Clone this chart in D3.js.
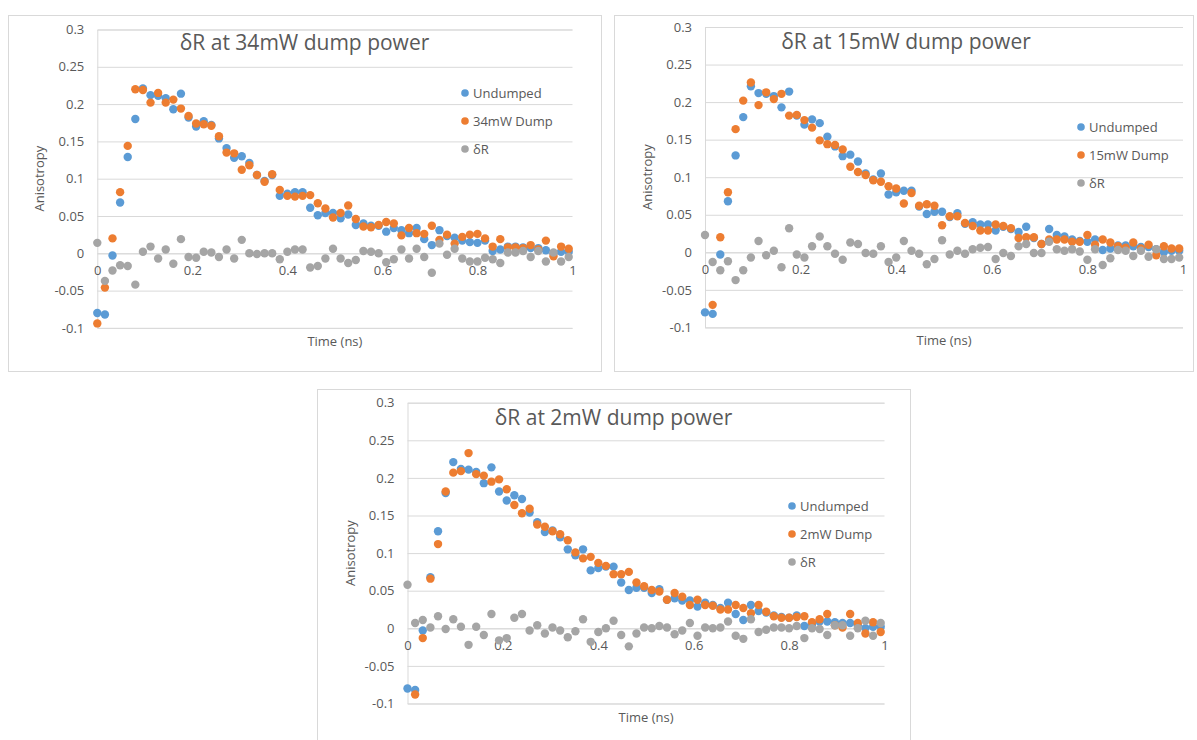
<!DOCTYPE html>
<html>
<head>
<meta charset="utf-8">
<script src="https://cdn.jsdelivr.net/npm/d3@7"></script>
<style>
  html, body { margin: 0; padding: 0; background: #ffffff; }
  svg { display: block; font-family: "Open Sans", "Noto Sans", sans-serif; }
</style>
</head>
<body>
<svg id="chart" width="1197" height="740"></svg>
<script>
// Sample times (ns)
const times = [0, 0.016, 0.032, 0.048, 0.064, 0.08, 0.096, 0.112, 0.128, 0.144,
  0.16, 0.176, 0.192, 0.208, 0.224, 0.24, 0.256, 0.272, 0.288, 0.304,
  0.32, 0.336, 0.352, 0.368, 0.384, 0.4, 0.416, 0.432, 0.448, 0.464,
  0.48, 0.496, 0.512, 0.528, 0.544, 0.56, 0.576, 0.592, 0.608, 0.624,
  0.64, 0.656, 0.672, 0.688, 0.704, 0.72, 0.736, 0.752, 0.768, 0.784,
  0.8, 0.816, 0.832, 0.848, 0.864, 0.88, 0.896, 0.912, 0.928, 0.944,
  0.96, 0.976, 0.992];

// Anisotropy without dump pulse (shared by all three panels)
const undumped = [-0.080, -0.082, -0.003, 0.068, 0.129, 0.180, 0.221, 0.212, 0.211, 0.208,
  0.193, 0.214, 0.182, 0.170, 0.177, 0.172, 0.154, 0.141, 0.128, 0.130,
  0.121, 0.105, 0.097, 0.105, 0.077, 0.080, 0.082, 0.082, 0.061, 0.051,
  0.054, 0.054, 0.047, 0.052, 0.038, 0.040, 0.037, 0.037, 0.029, 0.034,
  0.031, 0.027, 0.034, 0.019, 0.011, 0.031, 0.023, 0.021, 0.017, 0.015,
  0.014, 0.017, 0.003, 0.005, 0.009, 0.009, 0.008, 0.007, 0.007, 0.004,
  0.000, 0.002, 0.002];

// 34 mW dump
const dump34 = [-0.094, -0.046, 0.020, 0.082, 0.144, 0.220, 0.219, 0.202, 0.215, 0.202,
  0.206, 0.194, 0.184, 0.174, 0.173, 0.171, 0.157, 0.135, 0.134, 0.112,
  0.118, 0.105, 0.096, 0.106, 0.085, 0.077, 0.076, 0.077, 0.078, 0.067,
  0.060, 0.048, 0.054, 0.064, 0.046, 0.036, 0.035, 0.038, 0.042, 0.040,
  0.024, 0.034, 0.027, 0.026, 0.037, 0.018, 0.025, 0.013, 0.022, 0.025,
  0.026, 0.020, 0.009, 0.019, 0.008, 0.008, 0.007, 0.011, 0.005, 0.017,
  -0.004, 0.009, 0.006];
const deltaR34 = [0.014, -0.037, -0.023, -0.016, -0.017, -0.042, 0.002, 0.009, -0.007, 0.005,
  -0.014, 0.019, -0.005, -0.006, 0.002, 0.001, -0.005, 0.005, -0.007, 0.018,
  0.000, -0.001, 0.000, 0.000, -0.008, 0.002, 0.005, 0.005, -0.019, -0.017,
  -0.007, 0.006, -0.007, -0.013, -0.009, 0.003, 0.002, 0.000, -0.012, -0.008,
  0.005, -0.007, 0.006, -0.005, -0.026, 0.013, -0.002, 0.006, -0.007, -0.011,
  -0.011, -0.006, -0.008, -0.013, 0.001, 0.001, 0.003, -0.005, 0.003, -0.011,
  0.001, -0.011, -0.005];

// 15 mW dump
const dump15 = [-0.103, -0.070, 0.020, 0.080, 0.164, 0.202, 0.226, 0.196, 0.213, 0.204,
  0.211, 0.182, 0.183, 0.176, 0.166, 0.149, 0.144, 0.143, 0.137, 0.114,
  0.107, 0.103, 0.096, 0.094, 0.088, 0.085, 0.065, 0.079, 0.062, 0.064,
  0.062, 0.036, 0.048, 0.048, 0.039, 0.035, 0.029, 0.029, 0.037, 0.035,
  0.032, 0.019, 0.020, 0.020, 0.011, 0.017, 0.017, 0.017, 0.014, 0.014,
  0.023, 0.010, 0.017, 0.013, 0.008, 0.006, 0.013, 0.005, 0.010, -0.004,
  0.008, 0.005, 0.005];
const deltaR15 = [0.023, -0.013, -0.024, -0.012, -0.037, -0.024, -0.007, 0.015, -0.004, 0.002,
  -0.020, 0.032, -0.003, -0.007, 0.008, 0.021, 0.008, -0.002, -0.010, 0.013,
  0.011, -0.001, -0.002, 0.008, -0.013, -0.007, 0.015, 0.002, -0.002, -0.016,
  -0.009, 0.016, -0.003, 0.002, -0.002, 0.004, 0.006, 0.007, -0.009, -0.001,
  -0.005, 0.008, 0.011, -0.001, -0.001, 0.014, 0.004, 0.002, 0.004, 0.001,
  -0.010, 0.004, -0.017, -0.008, 0.003, 0.002, -0.005, 0.002, -0.006, 0.004,
  -0.009, -0.009, -0.007];

// 2 mW dump
const dump2 = [-0.138, -0.088, -0.013, 0.066, 0.112, 0.182, 0.207, 0.209, 0.233, 0.205,
  0.203, 0.195, 0.198, 0.185, 0.164, 0.153, 0.159, 0.138, 0.135, 0.129,
  0.125, 0.117, 0.101, 0.093, 0.095, 0.087, 0.083, 0.072, 0.072, 0.075,
  0.061, 0.056, 0.051, 0.049, 0.038, 0.047, 0.042, 0.031, 0.038, 0.031,
  0.030, 0.025, 0.025, 0.031, 0.027, 0.020, 0.031, 0.022, 0.016, 0.014,
  0.014, 0.015, 0.016, 0.008, 0.012, 0.019, 0.004, 0.001, 0.019, 0.007,
  -0.007, 0.008, -0.005];
const deltaR2 = [0.058, 0.007, 0.011, 0.001, 0.016, -0.001, 0.012, 0.002, -0.022, 0.002,
  -0.009, 0.019, -0.016, -0.013, 0.014, 0.019, -0.003, 0.004, -0.007, 0.001,
  -0.003, -0.012, -0.004, 0.012, -0.018, -0.005, 0.000, 0.010, -0.009, -0.024,
  -0.007, 0.001, 0.000, 0.003, 0.001, -0.008, -0.003, 0.007, -0.010, 0.001,
  0.000, 0.001, 0.009, -0.010, -0.014, 0.012, -0.005, -0.002, 0.001, 0.001,
  0.000, 0.003, -0.013, 0.000, -0.001, -0.009, 0.004, 0.004, -0.010, 0.000,
  0.010, -0.010, 0.007];

const yTicks = [-0.1, -0.05, 0, 0.05, 0.1, 0.15, 0.2, 0.25, 0.3];
const xTicks = [0, 0.2, 0.4, 0.6, 0.8, 1];
const panelTitles = ["δR at 34mW dump power", "δR at 15mW dump power", "δR at 2mW dump power"];
const dumpNames = ["34mW Dump", "15mW Dump", "2mW Dump"];
const undumpedName = "Undumped";
const deltaName = "δR";
const yAxisTitle = "Anisotropy";
const xAxisTitle = "Time (ns)";

const colors = { undumped: "#5B9BD5", dump: "#ED7D31", delta: "#A5A5A5" };
const textColor = "#595959";
const gridColor = "#D9D9D9";

// Layout of each chart box
const panels = [
  { frame: [8, 15, 593, 356], plot: [97.3, 572.5, 29.5, 327.9], legend: [465, 93], title: 304.5, titleY: 49.5,
    dump: dump34, delta: deltaR34 },
  { frame: [614, 15, 579, 356], plot: [705, 1183, 27, 327.4], legend: [1081, 127], title: 906, titleY: 48.5,
    dump: dump15, delta: deltaR15 },
  { frame: [317, 389, 593, 380], plot: [407.5, 884.5, 402.7, 703.5], legend: [792, 506], title: 613.5, titleY: 425,
    dump: dump2, delta: deltaR2 }
];

const svg = d3.select("#chart");

panels.forEach((p, k) => {
  const [fx, fy, fw, fh] = p.frame;
  const [left, right, top, bottom] = p.plot;
  const g = svg.append("g");

  g.append("rect")
    .attr("x", fx + 0.5).attr("y", fy + 0.5)
    .attr("width", fw).attr("height", fh)
    .attr("fill", "#ffffff").attr("stroke", gridColor).attr("stroke-width", 1);

  const x = d3.scaleLinear().domain([0, 1]).range([left, right]);
  const y = d3.scaleLinear().domain([-0.1, 0.3]).range([bottom, top]);

  // horizontal gridlines + value labels
  const yAxis = g.append("g")
    .attr("transform", `translate(${left},0)`)
    .call(d3.axisLeft(y).tickValues(yTicks).tickSize(-(right - left)).tickPadding(13)
      .tickFormat(d => String(d)));
  yAxis.selectAll(".tick line").attr("stroke", gridColor);
  yAxis.select(".domain").attr("stroke", gridColor);
  yAxis.selectAll(".tick text")
    .attr("fill", textColor).style("font-size", "13px")
    .style("font-family", "'Open Sans', sans-serif");

  // horizontal axis crosses at zero
  const xAxis = g.append("g")
    .attr("transform", `translate(0,${y(0)})`)
    .call(d3.axisBottom(x).tickValues(xTicks).tickSize(0).tickPadding(12)
      .tickFormat(d => String(d)));
  xAxis.select(".domain").attr("stroke", gridColor);
  xAxis.selectAll(".tick text")
    .attr("fill", textColor).style("font-size", "13px")
    .style("font-family", "'Open Sans', sans-serif");

  // title
  g.append("text")
    .attr("x", p.title).attr("y", p.titleY)
    .attr("text-anchor", "middle")
    .attr("fill", textColor)
    .style("font-size", "21px")
    .text(panelTitles[k]);

  // axis titles
  g.append("text")
    .attr("transform", `translate(${left - 53},${(top + bottom) / 2}) rotate(-90)`)
    .attr("text-anchor", "middle")
    .attr("fill", textColor)
    .style("font-size", "13px")
    .text(yAxisTitle);
  g.append("text")
    .attr("x", (left + right) / 2).attr("y", bottom + 18)
    .attr("text-anchor", "middle")
    .attr("fill", textColor)
    .style("font-size", "13px")
    .text(xAxisTitle);

  // series, drawn in order so later ones sit on top
  const series = [
    { values: undumped, color: colors.undumped, name: undumpedName },
    { values: p.dump, color: colors.dump, name: dumpNames[k] },
    { values: p.delta, color: colors.delta, name: deltaName }
  ];
  series.forEach(s => {
    const pts = times.map((t, i) => ({ t, v: s.values[i] }))
      .filter(d => d.v >= -0.1 && d.v <= 0.3);
    g.append("g").selectAll("circle")
      .data(pts).join("circle")
      .attr("cx", d => x(d.t)).attr("cy", d => y(d.v))
      .attr("r", 4.2).attr("fill", s.color);
  });

  // legend
  const lg = g.append("g").attr("transform", `translate(${p.legend[0]},${p.legend[1]})`);
  series.forEach((s, i) => {
    lg.append("circle").attr("cx", 0).attr("cy", i * 28).attr("r", 3.8).attr("fill", s.color);
    lg.append("text").attr("x", 8).attr("y", i * 28 + 4.6)
      .attr("fill", textColor).style("font-size", "13px")
      .text(s.name);
  });
});
</script>
</body>
</html>
